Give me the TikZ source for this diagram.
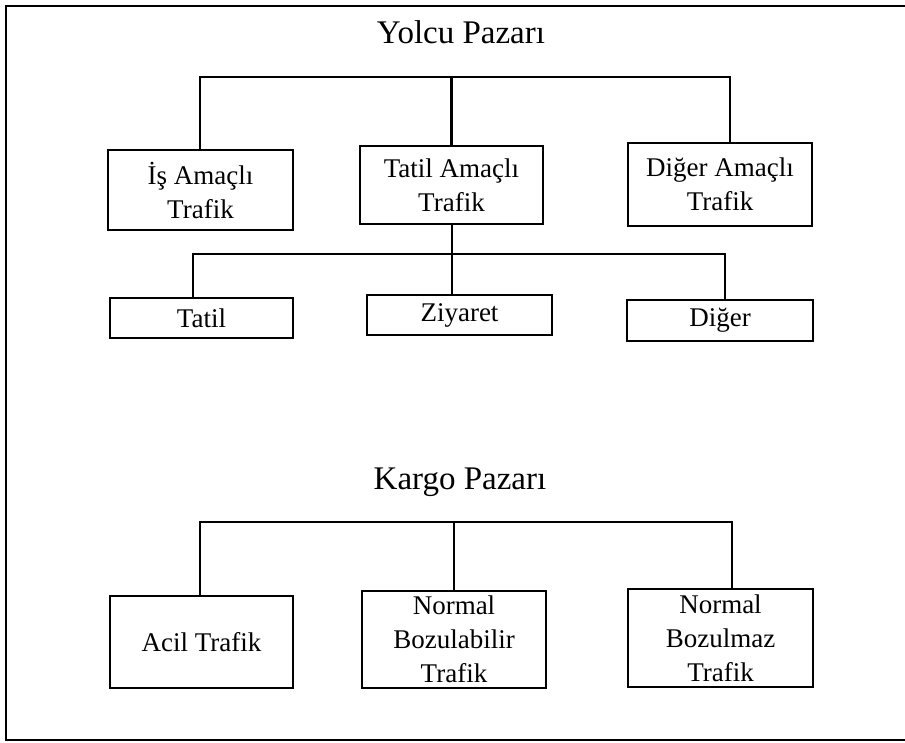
\documentclass[tikz,border=0pt]{standalone}
\usepackage{fontspec}
\setmainfont{Liberation Serif}
\begin{document}
\begin{tikzpicture}[x=1pt,y=-1pt,
  box/.style={draw, line width=2.6pt, inner sep=0pt, align=center,
              font=\fontsize{27}{34}\selectfont},
  heading/.style={anchor=base, inner sep=0pt, font=\fontsize{33}{38}\selectfont},
  link/.style={line width=2.4pt}]
\useasboundingbox (0,0) rectangle (905,743);

% outer frame (open on the right)
\draw[line width=2.2pt] (905,6) -- (6,6) -- (6,740) -- (905,740);

% ---------- passenger market ----------
\node[heading] (yolcu) at (461,44) {Yolcu Pazarı};

\node[box, minimum width=185, minimum height=80] (is)     at (200.5,190) {İş Amaçlı\\Trafik};
\node[box, minimum width=183, minimum height=78] (tatilA) at (451.5,185) {Tatil Amaçlı\\Trafik};
\node[box, minimum width=184, minimum height=83] (digerA) at (720,184.5) {Diğer Amaçlı\\Trafik};

\coordinate (b1) at (200,77);
\coordinate (b2) at (730,77);
\draw[link] (is.north -| b1) -- (b1) -- (b2) -- (digerA.north -| b2);
\draw[link] (tatilA.north) -- (tatilA.north |- b1);

\node[box, minimum width=183, minimum height=40] (tatil)   at (201.5,318) {Tatil};
\node[box, minimum width=185, minimum height=40] (ziyaret) at (459.5,315) {Ziyaret};
\node[box, minimum width=186, minimum height=41] (diger)   at (720,320.5) {Diğer};

\coordinate (c1) at (193,254);
\coordinate (c2) at (725,254);
\coordinate (c3) at (452,254);
\draw[link] (tatil.north -| c1) -- (c1) -- (c2) -- (diger.north -| c2);
\draw[link] (tatilA.south -| c3) -- (ziyaret.north -| c3);

% ---------- cargo market ----------
\node[heading] (kargo) at (460,489) {Kargo Pazarı};

\node[box, minimum width=183, minimum height=92] (acil)  at (201.5,642) {Acil Trafik};
\node[box, minimum width=184, minimum height=97] (nbil)  at (454,639.5) {Normal\\Bozulabilir\\Trafik};
\node[box, minimum width=185, minimum height=98] (nbmaz) at (720.5,638) {Normal\\Bozulmaz\\Trafik};

\coordinate (d1) at (200,522);
\coordinate (d2) at (732,522);
\draw[link] (acil.north -| d1) -- (d1) -- (d2) -- (nbmaz.north -| d2);
\draw[link] (nbil.north) -- (nbil.north |- d1);
\end{tikzpicture}
\end{document}
